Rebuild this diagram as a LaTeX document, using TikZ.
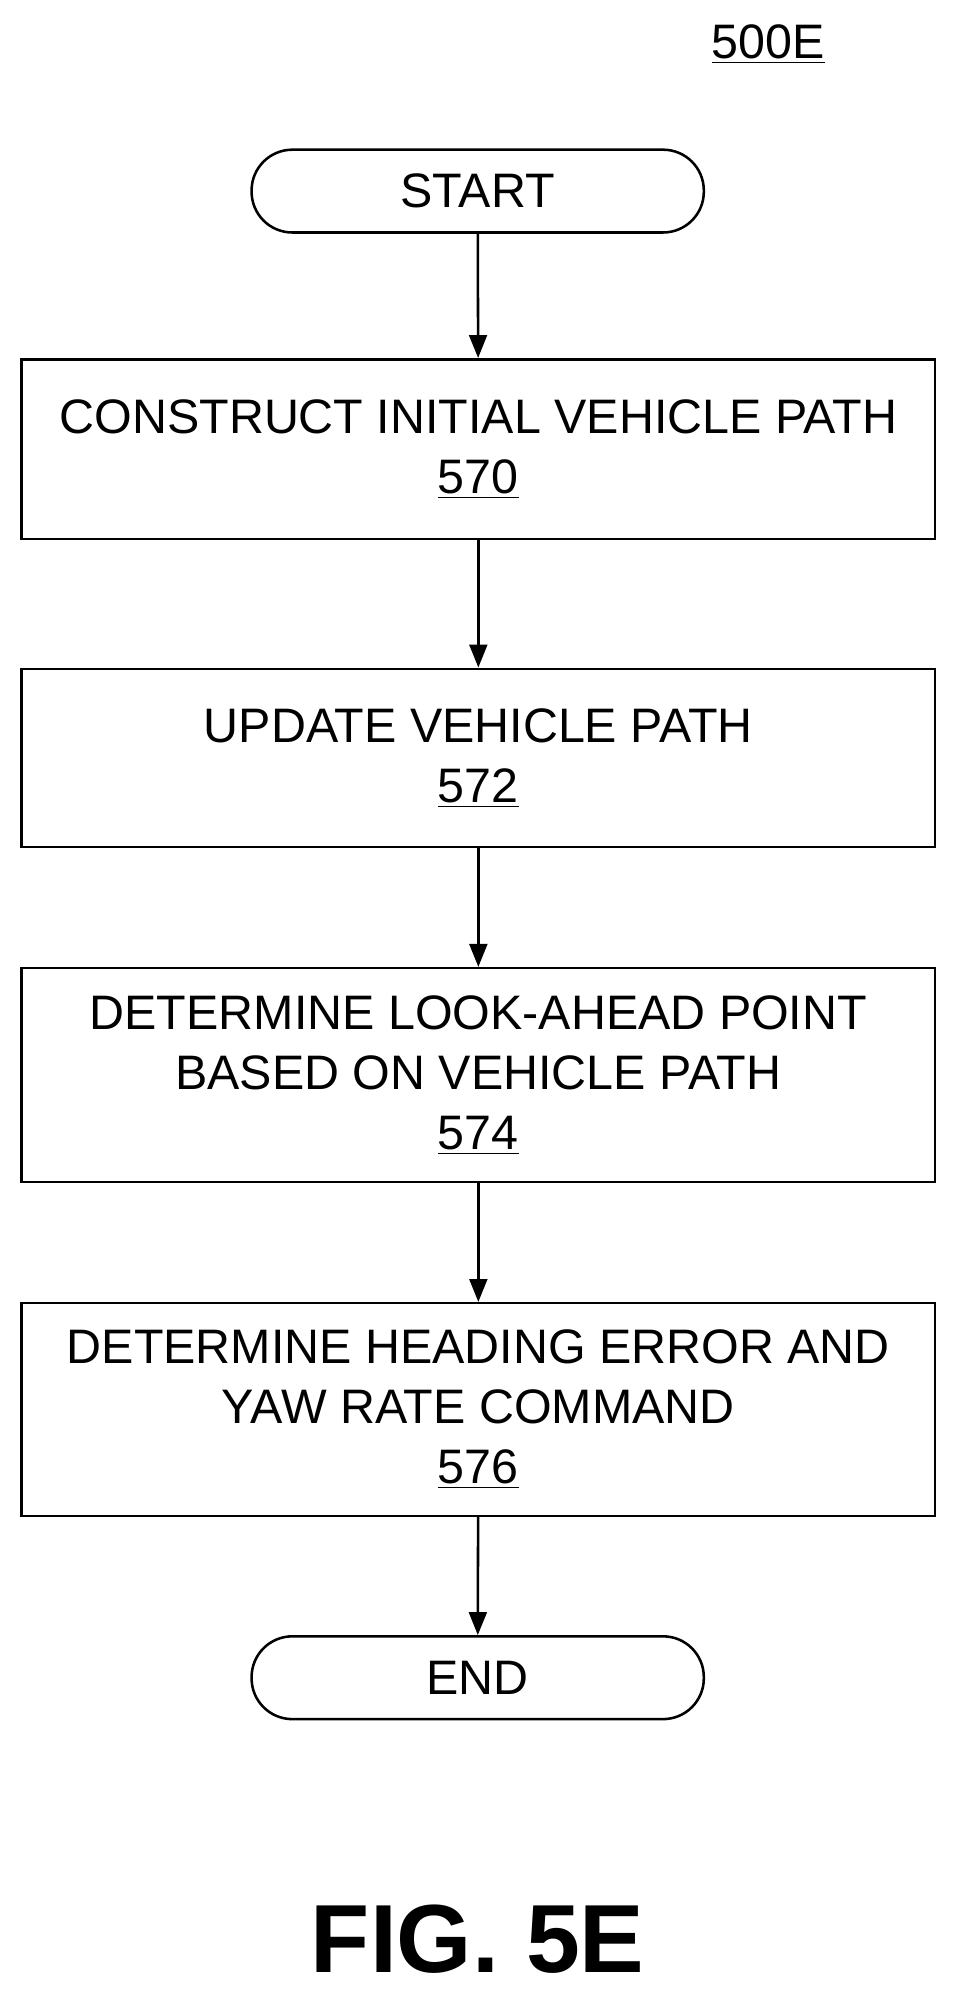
\documentclass[tikz,border=0pt]{standalone}
\usepackage{fontspec}
\setmainfont{Liberation Sans}
\usetikzlibrary{arrows.meta}
\begin{document}
\begin{tikzpicture}[x=0.5pt,y=-0.5pt, line width=1pt,
    every node/.style={font=\fontsize{19}{23.5}\selectfont, align=center, inner sep=0pt},
    term/.style={draw, rounded corners=16pt, minimum width=177.5pt, minimum height=32.5pt},
    stepbox/.style={draw, minimum width=358.5pt},
    flow/.style={-{Triangle[length=9pt,width=7pt]}}]
    \useasboundingbox (0,0) rectangle (752,1570);
    \node (lbl) at (603,35) {\underline{500E}};
    \node [term] (start) at (375,150) {START};
    \node [stepbox, minimum height=70.5pt] (s570) at (375.5,352.5) {CONSTRUCT INITIAL VEHICLE PATH\\\underline{570}};
    \node [stepbox, minimum height=70pt] (s572) at (375.5,595) {UPDATE VEHICLE PATH\\\underline{572}};
    \node [stepbox, minimum height=84pt] (s574) at (375.5,844) {DETERMINE LOOK-AHEAD POINT\\BASED ON VEHICLE PATH\\\underline{574}};
    \node [stepbox, minimum height=83.5pt] (s576) at (375.5,1106.5) {DETERMINE HEADING ERROR AND\\YAW RATE COMMAND\\\underline{576}};
    \node [term] (end) at (375,1317) {END};
    \node [font=\fontsize{38}{44}\selectfont\bfseries] (fig) at (375,1522) {FIG. 5E};
    % connectors
    \draw [flow] (start) -- (s570);
    \draw [flow] (s570) -- (s572);
    \draw [flow] (s572) -- (s574);
    \draw [flow] (s574) -- (s576);
    \draw [flow] (s576) -- (end);
\end{tikzpicture}
\end{document}
